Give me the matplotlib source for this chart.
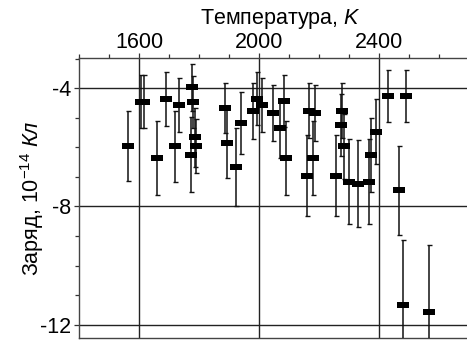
import numpy as np
import matplotlib
matplotlib.use('Agg')
import matplotlib.pyplot as plt
from matplotlib.ticker import MultipleLocator

# температура, K
temp = [1563, 1606, 1615, 1661, 1691, 1720, 1732, 1774, 1777, 1779, 1788, 1791,
        1887, 1894, 1923, 1940, 1981, 1992, 2009, 2045, 2070, 2083, 2090,
        2161, 2168, 2181, 2187, 2258, 2274, 2276, 2283, 2300, 2329, 2368,
        2372, 2389, 2431, 2467, 2481, 2490, 2567]
# заряд, 10^-14 Кл
charge = [-5.96, -4.46, -4.46, -6.36, -4.37, -5.96, -4.56, -6.25, -3.97, -4.46, -5.66, -5.96,
          -4.68, -5.87, -6.66, -5.18, -4.76, -4.36, -4.56, -4.84, -5.35, -4.45, -6.36,
          -6.96, -4.76, -6.36, -4.84, -6.96, -5.26, -4.76, -5.97, -7.16, -7.24, -7.16,
          -6.25, -5.47, -4.26, -7.46, -11.35, -4.26, -11.56]
err = [1.18, 0.90, 0.90, 1.26, 0.92, 1.20, 0.92, 1.26, 0.80, 0.88, 1.00, 0.90,
       0.85, 1.17, 1.32, 1.05, 0.95, 0.90, 0.92, 0.96, 1.00, 0.88, 1.26,
       1.38, 0.93, 1.26, 0.96, 1.38, 1.05, 0.93, 1.10, 1.45, 1.47, 1.45,
       1.25, 1.10, 0.87, 1.50, 2.22, 0.87, 2.27]

plt.rcParams['font.family'] = ['Liberation Sans', 'DejaVu Sans']
plt.rcParams['mathtext.fontset'] = 'custom'
plt.rcParams['mathtext.rm'] = 'Liberation Sans'
plt.rcParams['mathtext.it'] = 'Liberation Sans:italic'
plt.rcParams['axes.unicode_minus'] = False

fig = plt.figure(figsize=(4.67, 3.42), dpi=100)
ax = fig.add_axes([79 / 467, 4 / 342, 1 - 79 / 467, 280 / 342])

rect = [(-1, -0.6), (1, -0.6), (1, 0.6), (-1, 0.6)]
ax.errorbar(temp, charge, yerr=err, fmt='none', ecolor='#111111',
            elinewidth=1.1, capsize=1.8, capthick=1.0, zorder=3)
ax.plot(temp, charge, linestyle='none', marker=rect, markersize=8,
        markeredgewidth=0, color='black', zorder=4)

ax.set_xlim(1400, 2693)
ax.set_ylim(-12.45, -2.98)

ax.xaxis.tick_top()
ax.xaxis.set_major_locator(MultipleLocator(400))
ax.xaxis.set_minor_locator(MultipleLocator(100))
ax.yaxis.set_major_locator(MultipleLocator(4))
ax.yaxis.set_minor_locator(MultipleLocator(1))
ax.tick_params(which='both', direction='out', color='#333333', width=0.9)
ax.tick_params(which='major', length=3.6, labelsize=15.5, pad=2)
ax.tick_params(which='minor', length=3.2)
ax.tick_params(axis='x', which='major', pad=0)

ax.grid(True, which='major', color='#222222', linewidth=1.0)
ax.set_axisbelow(True)
for s in ['left', 'top', 'bottom']:
    ax.spines[s].set_color('#444444')
    ax.spines[s].set_linewidth(1.0)
ax.spines['right'].set_visible(False)

fig.text(280 / 467, 1 - 19 / 342, 'Температура, $\\mathit{K}$', ha='center',
         va='center', fontsize=15.5)
fig.text(32 / 467, 1 - 198 / 342, 'Заряд, 10$^{-14}$ $\\mathit{Кл}$', ha='center',
         va='center', rotation=90, fontsize=15.5)

fig.savefig('out.png', dpi=100)
